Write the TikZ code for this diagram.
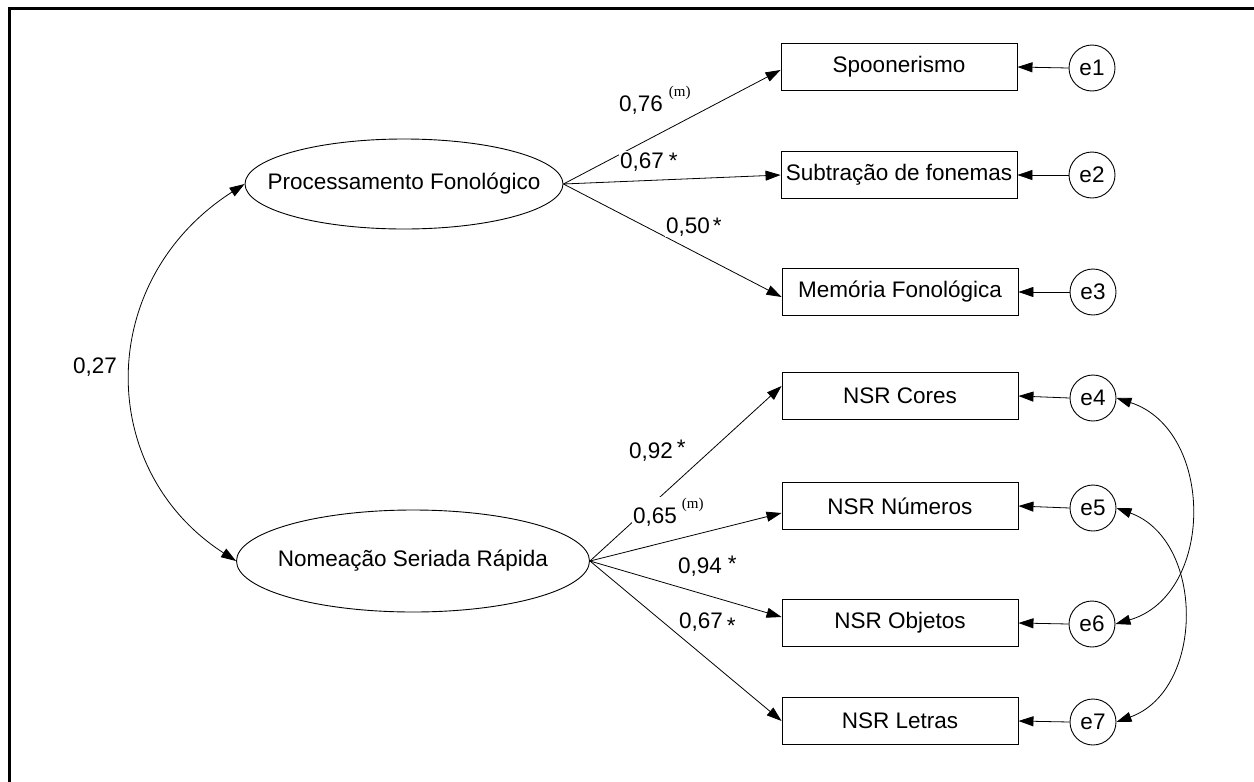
\documentclass[tikz,border=0pt]{standalone}
\usepackage{fontspec}
\setmainfont{Liberation Sans}
\newfontfamily\mserif{Liberation Serif}
\usetikzlibrary{shapes.geometric,arrows.meta,positioning}
\begin{document}
\begin{tikzpicture}[x=1pt,y=-1pt,
  every node/.style={font=\fontsize{22.5}{27}\selectfont},
  obs/.style={draw,line width=0.9pt,minimum width=236pt,minimum height=47pt,inner sep=0pt},
  lat/.style={draw,line width=0.9pt,ellipse,inner sep=0pt},
  err/.style={draw,line width=0.9pt,circle,minimum size=46pt,inner sep=0pt},
  path/.style={line width=0.8pt,-{Triangle[length=15pt,width=10pt]}},
  cov/.style={line width=0.8pt,{Triangle[length=15pt,width=10pt]}-{Triangle[length=15pt,width=10pt]}},
  lbl/.style={anchor=base west,inner sep=1pt,fill=white}
]
\useasboundingbox (0,0) rectangle (1254,782);
\draw[line width=3pt] (9.5,782) -- (9.5,8.5) -- (1254,8.5);

% latent variables
\node[lat,minimum width=318pt,minimum height=90pt] (pf) at (404,184) {\makebox[0pt]{Processamento Fonológico}};
\node[lat,minimum width=353pt,minimum height=102pt] (nsr) at (413,561) {\makebox[0pt]{Nomeação Seriada Rápida}};

% observed variables
\node[obs] (b1) at (899,67) {Spoonerismo};
\node[obs] (b2) at (899,175) {Subtração de fonemas};
\node[obs] (b3) at (900,292) {Memória Fonológica};
\node[obs] (b4) at (900,396) {NSR Cores};
\node[obs] (b5) at (900,506) {NSR Números};
\node[obs] (b6) at (900,623) {NSR Objetos};
\node[obs] (b7) at (900,721) {NSR Letras};

% errors
\node[err] (e1) at (1092,68) {e1};
\node[err] (e2) at (1092,175) {e2};
\node[err] (e3) at (1093,292) {e3};
\node[err] (e4) at (1093,398) {e4};
\node[err] (e5) at (1093,508) {e5};
\node[err] (e6) at (1092,624) {e6};
\node[err] (e7) at (1093,722) {e7};

% loadings
\draw[path] (pf.east) -- ([yshift=-3pt]b1.west);
\draw[path] (pf.east) -- (b2.west);
\draw[path] (pf.east) -- ([yshift=-5pt]b3.west);
\draw[path] (nsr.east) -- ([yshift=10pt]b4.west);
\draw[path] (nsr.east) -- ([yshift=-7pt]b5.west);
\draw[path] (nsr.east) -- ([yshift=6pt]b6.west);
\draw[path] (nsr.east) -- (b7.west);

% error paths
\foreach \i in {1,...,7} \draw[path] (e\i.west) -- (b\i.east);

% covariances
\draw[cov] (pf.west) .. controls (95,280) and (95,470) .. (nsr.west);
\draw[cov] (e4.east) .. controls (1215,430) and (1215,595) .. (e6.east);
\draw[cov] (e5.east) .. controls (1205,540) and (1205,690) .. (e7.east);

% labels
\node[anchor=center] (c27) at (95,367) {0,27};
\node[lbl] (l1) at (618,111) {0,76\hspace{6pt}\raisebox{15pt}{\mserif\fontsize{15}{15}\selectfont(m)}};
\node[lbl] (l2) at (619,168) {0,67\hspace{5pt}*};
\node[lbl] (l3) at (665,233) {0,50\hspace{3pt}*};
\node[lbl] (l4) at (628,458) {0,92\hspace{4pt}\raisebox{3pt}{*}};
\node[lbl] (l5) at (632,523) {0,65\hspace{5pt}\raisebox{15pt}{\mserif\fontsize{15}{15}\selectfont(m)}};
\node[lbl] (l6) at (677,573) {0,94\hspace{6pt}\raisebox{2pt}{*}};
\node[lbl] (l7) at (678,628) {0,67\hspace{4pt}\raisebox{-5pt}{*}};
\end{tikzpicture}
\end{document}
